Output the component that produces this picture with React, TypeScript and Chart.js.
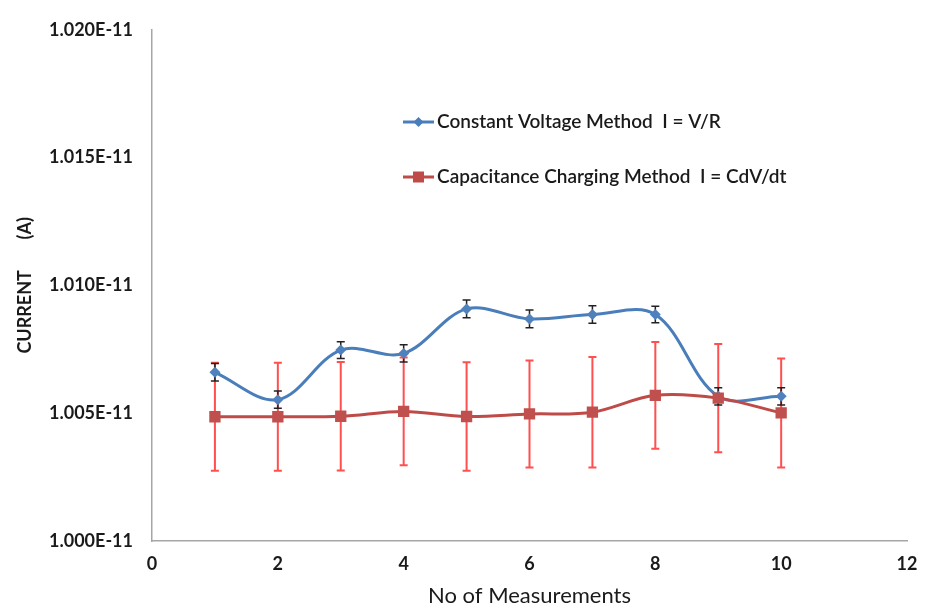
import React, { useEffect, useRef } from "react";
import { Chart, registerables } from "chart.js";

Chart.register(...registerables);

// x values: measurement number
const measurements = [1, 2, 3, 4, 5, 6, 7, 8, 9, 10];
// currents in units of 1E-11 A
const constantVoltage = [1.0066, 1.00553, 1.00747, 1.00734, 1.00908, 1.00869, 1.00886, 1.00886, 1.00566, 1.00566];
const constantVoltageErr = [0.00034, 0.00034, 0.00033, 0.00034, 0.00035, 0.00035, 0.00034, 0.00032, 0.00034, 0.00034];
const capacitanceCharging = [1.00486, 1.00486, 1.00488, 1.00507, 1.00487, 1.00497, 1.00504, 1.0057, 1.00559, 1.00501];
const capacitanceChargingErr = [0.00211, 0.00211, 0.00212, 0.00211, 0.00212, 0.00209, 0.00216, 0.00209, 0.00212, 0.00213];

const seriesLabels = ["Constant Voltage Method  I = V/R", "Capacitance Charging Method  I = CdV/dt"];
const xAxisTitle = "No of Measurements";
const yAxisTitle = "CURRENT       (A)";
const xTickMin = 0;
const xTickMax = 12;
const xTickStep = 2;
const yTickMin = 1.0;
const yTickMax = 1.02;
const yTickStep = 0.005;

const BLUE = "#4A7EBB";
const RED = "#BE4B48";
const TEXT = "#1a1a1a";

const errorBarPlugin = {
  id: "errorBars",
  beforeDatasetsDraw(chart: any) {
    const { ctx } = chart;
    const xs = chart.scales.x;
    const ys = chart.scales.y;
    const specs = [
      { vals: capacitanceCharging, errs: capacitanceChargingErr, color: "#FF4F4F", width: 2 },
      { vals: constantVoltage, errs: constantVoltageErr, color: "#222", width: 1.5 },
    ];
    ctx.save();
    for (const s of specs) {
      ctx.strokeStyle = s.color;
      ctx.lineWidth = s.width;
      s.vals.forEach((v, i) => {
        const x = xs.getPixelForValue(measurements[i]);
        const yTop = ys.getPixelForValue(v + s.errs[i]);
        const yBot = ys.getPixelForValue(v - s.errs[i]);
        ctx.beginPath();
        ctx.moveTo(x, yTop);
        ctx.lineTo(x, yBot);
        ctx.moveTo(x - 4, yTop);
        ctx.lineTo(x + 4, yTop);
        ctx.moveTo(x - 4, yBot);
        ctx.lineTo(x + 4, yBot);
        ctx.stroke();
      });
    }
    ctx.restore();
  },
};

const legendPlugin = {
  id: "insideLegend",
  afterDraw(chart: any) {
    const { ctx } = chart;
    const rows = [
      { label: seriesLabels[0], color: BLUE, marker: "diamond", y: 122 },
      { label: seriesLabels[1], color: RED, marker: "square", y: 177 },
    ];
    ctx.save();
    for (const r of rows) {
      ctx.strokeStyle = r.color;
      ctx.lineWidth = 3;
      ctx.beginPath();
      ctx.moveTo(403, r.y);
      ctx.lineTo(434, r.y);
      ctx.stroke();
      ctx.fillStyle = r.color;
      ctx.beginPath();
      if (r.marker === "diamond") {
        ctx.moveTo(418.5, r.y - 5);
        ctx.lineTo(423.5, r.y);
        ctx.lineTo(418.5, r.y + 5);
        ctx.lineTo(413.5, r.y);
        ctx.closePath();
      } else {
        ctx.rect(413, r.y - 5.5, 11, 11);
      }
      ctx.fill();
      ctx.fillStyle = TEXT;
      ctx.font = "600 19px Lato";
      ctx.textBaseline = "middle";
      ctx.textAlign = "left";
      ctx.fillText(r.label, 437, r.y);
    }
    ctx.restore();
  },
};

export default function App() {
  const ref = useRef<HTMLCanvasElement | null>(null);
  useEffect(() => {
    if (!ref.current) return;
    const chart = new Chart(ref.current, {
      type: "line",
      data: {
        datasets: [
          {
            label: seriesLabels[0],
            data: measurements.map((x, i) => ({ x, y: constantVoltage[i] })),
            borderColor: BLUE,
            backgroundColor: "#4F81BD",
            borderWidth: 3,
            pointStyle: "rectRot",
            pointRadius: 5.5,
            pointBorderWidth: 0,
            tension: 0.35,
            order: 1,
          },
          {
            label: seriesLabels[1],
            data: measurements.map((x, i) => ({ x, y: capacitanceCharging[i] })),
            borderColor: RED,
            backgroundColor: "#C0504D",
            borderWidth: 3,
            pointStyle: "rect",
            pointRadius: 8,
            pointBorderWidth: 0,
            tension: 0.35,
            order: 0,
          },
        ],
      },
      options: {
        animation: false,
        responsive: false,
        layout: { padding: { top: 25, right: 23, left: 0, bottom: 0 } },
        plugins: { legend: { display: false }, tooltip: { enabled: false } },
        scales: {
          x: {
            type: "linear",
            min: xTickMin,
            max: xTickMax,
            ticks: {
              stepSize: xTickStep,
              padding: 12,
              color: TEXT,
              font: { family: "Lato", size: 18, weight: "bold" },
            },
            grid: { display: false, drawTicks: false },
            border: { display: true, color: "#A6A6A6", width: 1.5 },
            title: {
              display: true,
              text: xAxisTitle,
              color: TEXT,
              font: { family: "Lato", size: 22 },
              padding: { top: 0, bottom: 0 },
            },
            afterFit: (s: any) => {
              s.height = 68;
            },
          },
          y: {
            type: "linear",
            min: yTickMin,
            max: yTickMax,
            ticks: {
              stepSize: yTickStep,
              padding: 19,
              color: TEXT,
              font: { family: "Lato", size: 18, weight: "bold" },
              callback: (v: any) => Number(v).toFixed(3) + "E-11",
            },
            grid: { display: false, drawTicks: false },
            border: { display: true, color: "#A6A6A6", width: 1.5 },
            title: {
              display: true,
              text: yAxisTitle,
              color: TEXT,
              font: { family: "Lato", size: 18, weight: "bold" },
              padding: { top: 14, bottom: 0 },
            },
            afterFit: (s: any) => {
              s.width = 152;
            },
          },
        },
      },
      plugins: [errorBarPlugin, legendPlugin],
    } as any);
    return () => chart.destroy();
  }, []);
  return (
    <div style={{ position: "fixed", left: 0, top: 0, width: 930, height: 609, background: "#fff" }}>
      <canvas ref={ref} width={930} height={609} />
    </div>
  );
}
